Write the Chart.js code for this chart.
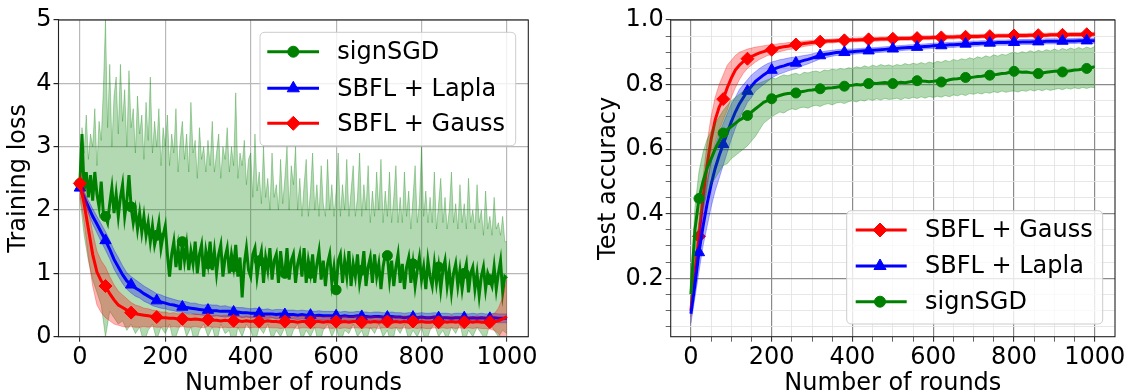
<!DOCTYPE html>
<html><head><meta charset="utf-8">
<script src="https://cdn.jsdelivr.net/npm/chart.js@4"></script>
<style>
html,body{margin:0;padding:0;background:#fff;overflow:hidden;width:1128px;height:392px;}
#left{position:absolute;left:0;top:0;width:560px;height:400px;}
#right{position:absolute;left:590px;top:0;width:538px;height:400px;}
</style></head><body>
<div id="left"><canvas id="c1"></canvas></div>
<div id="right"><canvas id="c2"></canvas></div>
<script>
// ---------- DATA ----------
const seriesNames = ['signSGD', 'SBFL + Lapla', 'SBFL + Gauss'];
const xTitle = 'Number of rounds';
const lossTitle = 'Training loss';
const accTitle = 'Test accuracy';

const fineStep = 5;   // rounds between points of the signSGD loss curves
const step = 10;      // rounds between points of the other curves

// Training loss, signSGD (every 5 rounds)
const signLossMean = [
2.42,3.2,2.3,2.6,2.2,2.55,2.15,2.6,2.25,2.05,2.45,1.95,1.9,1.8,2.1,2.35,1.95,2.25,1.9,2.2,
2.4,1.9,2.15,2.55,2.05,1.8,2.0,1.7,1.95,1.65,1.9,1.6,1.8,1.5,1.75,1.45,1.6,1.8,1.4,1.6,
1.75,1.3,0.95,1.3,1.5,1.1,1.4,1.05,1.5,1.2,1.45,1.05,1.35,1.15,1.5,1.0,1.3,1.45,0.95,1.35,
1.15,1.5,1.05,1.35,1.0,1.3,1.45,0.95,1.25,1.4,1.0,1.3,1.1,1.45,0.95,1.25,0.62,1.15,1.4,1.05,
0.95,1.3,1.4,0.95,1.2,1.35,0.85,1.25,1.05,1.4,0.9,1.2,1.3,0.85,1.35,1.05,1.0,1.4,0.9,1.2,
1.3,0.85,1.15,1.3,0.95,1.4,0.85,1.2,1.0,1.3,0.85,1.15,1.35,0.9,1.2,0.8,1.15,1.3,0.85,1.1,
0.74,1.2,1.3,0.85,1.2,0.95,1.35,0.8,1.15,0.95,1.3,0.85,1.05,1.35,0.8,1.1,1.25,0.85,1.3,0.95,
1.15,0.75,1.1,1.3,1.28,0.9,1.2,0.8,1.1,1.3,0.85,1.15,0.75,1.1,1.25,0.85,1.15,0.8,1.05,1.25,
0.9,1.1,0.75,1.2,0.95,0.8,1.15,0.85,1.1,0.75,1.05,1.2,0.8,1.05,0.7,1.0,1.15,0.8,1.05,0.75,
1.0,1.15,0.7,1.0,1.1,0.75,1.0,0.65,0.95,1.1,0.75,1.0,0.9,0.8,1.1,0.75,1.0,1.2,0.7,0.95,
0.92];
const signLossUpper = [
2.6,3.3,2.9,3.5,2.8,3.2,3.0,3.6,2.7,3.4,3.1,3.9,5.0,3.3,4.3,3.0,3.8,4.1,3.2,4.3,
3.4,3.9,3.0,4.2,3.3,3.6,2.9,3.8,3.2,3.5,2.8,3.7,3.1,4.1,2.9,3.4,3.0,3.6,2.7,3.3,
3.0,3.5,2.7,3.2,2.9,3.6,2.6,3.1,3.4,2.8,3.2,2.6,3.7,2.9,3.1,2.5,3.3,2.8,3.0,2.6,
3.1,2.7,3.4,2.6,2.9,3.2,2.5,3.0,2.8,3.3,2.6,3.0,2.7,3.85,2.5,2.9,2.7,3.1,2.4,2.8,
2.9,2.2,3.2,2.3,2.6,2.1,3.0,2.2,2.5,2.0,2.9,2.2,2.4,2.0,2.8,2.1,2.5,3.0,2.0,2.7,
2.4,3.0,2.0,2.5,1.9,2.4,2.8,1.9,2.3,2.9,2.0,2.4,1.9,2.7,2.1,1.9,2.8,2.0,2.4,1.9,
2.3,2.9,1.9,2.4,2.0,2.8,1.9,2.3,2.7,1.9,2.2,2.9,1.9,2.4,2.0,2.7,1.8,2.3,1.9,2.6,
2.0,2.8,1.8,2.3,1.9,2.6,1.8,2.2,2.7,1.8,2.2,1.8,2.6,1.9,2.3,1.7,2.2,2.7,1.8,2.1,
3.0,1.9,2.3,1.8,2.2,1.8,2.6,1.7,2.1,2.5,1.8,2.2,1.7,2.0,2.6,1.8,2.1,1.7,2.4,1.8,
2.1,1.7,2.5,1.8,2.0,1.7,2.4,1.8,2.0,1.6,2.3,1.7,1.9,1.6,2.2,1.7,1.8,1.6,1.9,1.5,
1.5];
// every 10 rounds
const signLossLower = [
2.2,1.6,1.2,0.9,0.7,0.5,0.0,0.4,0.3,0.2,
0.25,0.1,0.2,0.05,0.15,-0.1,0.1,0.2,-0.05,0.15,
0.05,0.2,-0.1,0.1,0.25,0.0,0.15,-0.15,0.1,0.2,
0.0,0.15,-0.1,0.2,0.05,0.1,-0.2,0.15,0.0,0.2,
0.1,-0.1,0.15,0.05,0.2,-0.05,0.1,0.0,0.15,-0.1,
0.1,0.2,-0.05,0.1,0.0,0.15,-0.15,0.1,0.2,0.0,
0.15,-0.1,0.1,0.05,0.2,0.0,0.1,-0.1,0.15,0.05,
0.2,0.0,0.1,-0.15,0.15,0.05,0.2,-0.05,0.1,0.0,
0.15,-0.1,0.1,0.2,0.0,0.1,-0.05,0.15,0.05,0.2,
-0.1,0.1,0.0,0.15,0.05,-0.05,0.2,0.1,0.0,0.1,
0.05];

// Training loss, SBFL + Lapla (every 10 rounds)
const laplaLossMean = [
2.35,2.2,2.05,1.9,1.78,1.65,1.52,1.38,1.22,1.1,
0.98,0.88,0.82,0.77,0.73,0.68,0.64,0.6,0.57,0.55,
0.53,0.51,0.5,0.48,0.47,0.46,0.45,0.44,0.43,0.42,
0.42,0.41,0.41,0.4,0.4,0.4,0.39,0.39,0.38,0.38,
0.37,0.37,0.37,0.36,0.36,0.36,0.35,0.36,0.35,0.35,
0.35,0.34,0.35,0.34,0.34,0.33,0.34,0.33,0.33,0.33,
0.33,0.32,0.33,0.32,0.32,0.33,0.32,0.32,0.31,0.32,
0.32,0.31,0.31,0.32,0.31,0.31,0.3,0.31,0.31,0.3,
0.31,0.3,0.3,0.31,0.3,0.3,0.3,0.29,0.3,0.3,
0.3,0.29,0.3,0.29,0.3,0.29,0.29,0.3,0.29,0.29,
0.29];
const laplaLossUpper = [
2.4,2.28,2.15,2.02,1.9,1.78,1.66,1.52,1.37,1.25,
1.12,1.01,0.95,0.9,0.85,0.8,0.76,0.72,0.68,0.66,
0.63,0.61,0.59,0.57,0.56,0.55,0.53,0.53,0.51,0.5,
0.51,0.5,0.5,0.48,0.49,0.47,0.47,0.46,0.46,0.45,
0.44,0.45,0.44,0.43,0.44,0.42,0.43,0.43,0.42,0.42,
0.42,0.41,0.42,0.41,0.41,0.4,0.41,0.4,0.4,0.4,
0.4,0.39,0.4,0.39,0.39,0.4,0.39,0.39,0.38,0.39,
0.39,0.38,0.38,0.39,0.38,0.38,0.37,0.38,0.38,0.37,
0.38,0.37,0.37,0.38,0.37,0.37,0.37,0.36,0.37,0.37,
0.37,0.36,0.37,0.36,0.37,0.36,0.36,0.37,0.36,0.36,
0.36];
const laplaLossLower = [
2.3,2.12,1.95,1.78,1.64,1.5,1.37,1.23,1.07,0.95,
0.84,0.75,0.69,0.64,0.61,0.56,0.53,0.49,0.47,0.45,
0.44,0.42,0.41,0.39,0.39,0.37,0.37,0.35,0.35,0.34,
0.33,0.32,0.33,0.32,0.31,0.32,0.31,0.32,0.3,0.31,
0.3,0.3,0.3,0.29,0.29,0.3,0.28,0.29,0.28,0.28,
0.28,0.27,0.28,0.27,0.27,0.26,0.27,0.26,0.26,0.26,
0.26,0.25,0.26,0.25,0.25,0.26,0.25,0.25,0.24,0.25,
0.25,0.24,0.24,0.25,0.24,0.24,0.23,0.24,0.24,0.23,
0.24,0.23,0.23,0.24,0.23,0.23,0.23,0.22,0.23,0.23,
0.23,0.22,0.23,0.22,0.23,0.22,0.22,0.23,0.22,0.22,
0.22];

// Training loss, SBFL + Gauss (every 10 rounds)
const gaussLossMean = [
2.42,2.1,1.7,1.3,1.02,0.88,0.8,0.68,0.58,0.5,
0.46,0.42,0.38,0.36,0.35,0.34,0.33,0.32,0.31,0.3,
0.3,0.29,0.29,0.28,0.28,0.28,0.27,0.28,0.27,0.26,
0.27,0.26,0.26,0.25,0.26,0.25,0.25,0.25,0.24,0.25,
0.24,0.25,0.24,0.24,0.25,0.24,0.24,0.23,0.24,0.24,
0.24,0.23,0.24,0.24,0.23,0.24,0.24,0.23,0.24,0.23,
0.24,0.23,0.24,0.23,0.24,0.24,0.23,0.24,0.23,0.24,
0.23,0.24,0.24,0.23,0.24,0.23,0.24,0.23,0.24,0.23,
0.24,0.23,0.23,0.24,0.23,0.24,0.23,0.24,0.23,0.24,
0.23,0.24,0.23,0.24,0.23,0.23,0.23,0.24,0.25,0.28,
0.32];
const gaussLossUpper = [
2.6,2.35,2.0,1.65,1.35,1.2,1.1,0.95,0.82,0.72,
0.66,0.6,0.54,0.5,0.48,0.45,0.44,0.42,0.41,0.39,
0.39,0.37,0.38,0.36,0.37,0.36,0.35,0.36,0.35,0.34,
0.35,0.34,0.34,0.33,0.34,0.33,0.33,0.33,0.32,0.33,
0.32,0.33,0.31,0.32,0.34,0.31,0.32,0.31,0.33,0.32,
0.32,0.31,0.33,0.32,0.31,0.33,0.32,0.31,0.32,0.31,
0.32,0.31,0.33,0.31,0.32,0.33,0.31,0.32,0.31,0.32,
0.31,0.32,0.33,0.31,0.32,0.31,0.33,0.31,0.32,0.31,
0.32,0.31,0.31,0.33,0.31,0.32,0.31,0.33,0.31,0.32,
0.31,0.32,0.31,0.33,0.31,0.32,0.33,0.36,0.45,0.62,
0.9];
const gaussLossLower = [
2.25,1.8,1.25,0.8,0.5,0.38,0.3,0.25,0.2,0.18,
0.16,0.15,0.16,0.15,0.15,0.16,0.15,0.16,0.15,0.15,
0.16,0.15,0.16,0.15,0.16,0.15,0.15,0.16,0.15,0.14,
0.16,0.15,0.15,0.14,0.15,0.14,0.15,0.14,0.14,0.15,
0.14,0.15,0.14,0.14,0.15,0.14,0.14,0.13,0.14,0.14,
0.14,0.13,0.14,0.14,0.13,0.14,0.14,0.13,0.14,0.13,
0.14,0.13,0.14,0.13,0.14,0.14,0.13,0.14,0.13,0.14,
0.13,0.14,0.14,0.13,0.14,0.13,0.14,0.13,0.14,0.13,
0.14,0.13,0.13,0.14,0.13,0.14,0.13,0.14,0.13,0.14,
0.13,0.14,0.13,0.14,0.13,0.13,0.12,0.1,0.05,-0.05,
-0.3];

// Test accuracy (every 10 rounds)
const gaussAcc = [
0.10,0.22,0.33,0.45,0.55,0.63,0.69,0.73,0.755,0.79,
0.82,0.845,0.86,0.872,0.88,0.887,0.893,0.898,0.902,0.906,
0.908,0.912,0.915,0.917,0.919,0.921,0.924,0.925,0.927,0.929,
0.93,0.931,0.933,0.934,0.935,0.935,0.936,0.937,0.937,0.938,
0.938,0.938,0.939,0.939,0.94,0.94,0.94,0.941,0.941,0.942,
0.942,0.942,0.943,0.943,0.943,0.944,0.944,0.945,0.945,0.945,
0.946,0.946,0.946,0.947,0.947,0.947,0.948,0.948,0.948,0.949,
0.949,0.949,0.95,0.95,0.95,0.95,0.951,0.951,0.951,0.951,
0.952,0.952,0.952,0.952,0.953,0.953,0.953,0.953,0.953,0.954,
0.954,0.954,0.954,0.954,0.955,0.955,0.955,0.955,0.956,0.956,
0.956];
const gaussAccUpper = [
0.12,0.26,0.38,0.51,0.62,0.70,0.76,0.80,0.83,0.86,
0.875,0.89,0.9,0.905,0.91,0.913,0.916,0.918,0.92,0.922,
0.923,0.925,0.927,0.928,0.93,0.931,0.933,0.934,0.935,0.936,
0.937,0.938,0.939,0.94,0.94,0.941,0.942,0.942,0.943,0.943,
0.944,0.944,0.945,0.945,0.946,0.946,0.946,0.947,0.947,0.948,
0.948,0.948,0.949,0.949,0.949,0.95,0.95,0.951,0.951,0.951,
0.952,0.952,0.952,0.953,0.953,0.953,0.954,0.954,0.954,0.955,
0.955,0.955,0.956,0.956,0.956,0.956,0.957,0.957,0.957,0.957,
0.958,0.958,0.958,0.958,0.959,0.959,0.959,0.959,0.959,0.96,
0.96,0.96,0.96,0.96,0.961,0.961,0.961,0.961,0.962,0.962,
0.962];
const gaussAccLower = [
0.08,0.18,0.28,0.39,0.48,0.56,0.62,0.66,0.69,0.72,
0.76,0.79,0.815,0.835,0.85,0.86,0.87,0.878,0.884,0.89,
0.893,0.898,0.902,0.905,0.908,0.91,0.914,0.915,0.918,0.92,
0.922,0.924,0.926,0.927,0.929,0.929,0.93,0.931,0.931,0.932,
0.932,0.932,0.933,0.933,0.934,0.934,0.934,0.935,0.935,0.936,
0.936,0.936,0.937,0.937,0.937,0.938,0.938,0.939,0.939,0.939,
0.94,0.94,0.94,0.941,0.941,0.941,0.942,0.942,0.942,0.943,
0.943,0.943,0.944,0.944,0.944,0.944,0.945,0.945,0.945,0.945,
0.946,0.946,0.946,0.946,0.947,0.947,0.947,0.947,0.947,0.948,
0.948,0.948,0.948,0.948,0.949,0.949,0.949,0.949,0.95,0.95,
0.95];

const laplaAcc = [
0.09,0.18,0.28,0.36,0.43,0.49,0.54,0.58,0.615,0.65,
0.685,0.715,0.74,0.76,0.78,0.795,0.81,0.82,0.83,0.838,
0.845,0.85,0.855,0.858,0.862,0.865,0.867,0.871,0.875,0.878,
0.882,0.886,0.89,0.893,0.895,0.897,0.899,0.9,0.9,0.901,
0.902,0.903,0.904,0.905,0.905,0.906,0.907,0.908,0.909,0.91,
0.911,0.912,0.913,0.914,0.915,0.915,0.916,0.917,0.918,0.919,
0.92,0.921,0.921,0.922,0.923,0.923,0.924,0.925,0.926,0.926,
0.927,0.927,0.928,0.928,0.929,0.929,0.93,0.93,0.93,0.931,
0.931,0.931,0.932,0.932,0.932,0.933,0.933,0.933,0.934,0.934,
0.934,0.934,0.935,0.935,0.935,0.935,0.936,0.936,0.936,0.936,
0.936];
const laplaAccUpper = [
0.12,0.22,0.33,0.42,0.5,0.56,0.61,0.65,0.68,0.71,
0.74,0.76,0.785,0.8,0.815,0.83,0.84,0.85,0.858,0.865,
0.87,0.873,0.877,0.879,0.882,0.884,0.885,0.888,0.89,0.892,
0.895,0.898,0.9,0.903,0.905,0.906,0.908,0.909,0.909,0.91,
0.91,0.911,0.912,0.913,0.913,0.914,0.915,0.916,0.917,0.918,
0.919,0.92,0.921,0.922,0.923,0.923,0.924,0.925,0.926,0.927,
0.928,0.929,0.929,0.93,0.931,0.931,0.932,0.933,0.934,0.934,
0.935,0.935,0.936,0.936,0.937,0.937,0.938,0.938,0.938,0.939,
0.939,0.939,0.94,0.94,0.94,0.941,0.941,0.941,0.942,0.942,
0.942,0.942,0.943,0.943,0.943,0.943,0.944,0.944,0.944,0.944,
0.944];
const laplaAccLower = [
0.06,0.14,0.22,0.3,0.36,0.42,0.47,0.51,0.55,0.59,
0.63,0.665,0.695,0.72,0.745,0.76,0.78,0.79,0.8,0.81,
0.82,0.827,0.833,0.837,0.842,0.846,0.849,0.854,0.86,0.864,
0.869,0.874,0.88,0.883,0.885,0.888,0.89,0.891,0.891,0.892,
0.894,0.895,0.896,0.897,0.897,0.898,0.899,0.9,0.901,0.902,
0.903,0.904,0.905,0.906,0.907,0.907,0.908,0.909,0.91,0.911,
0.912,0.913,0.913,0.914,0.915,0.915,0.916,0.917,0.918,0.918,
0.919,0.919,0.92,0.92,0.921,0.921,0.922,0.922,0.922,0.923,
0.923,0.923,0.924,0.924,0.924,0.925,0.925,0.925,0.926,0.926,
0.926,0.926,0.927,0.927,0.927,0.927,0.928,0.928,0.928,0.928,
0.928];

const signAcc = [
0.15,0.35,0.447,0.50,0.54,0.57,0.60,0.625,0.65,0.66,
0.67,0.68,0.69,0.697,0.704,0.715,0.725,0.735,0.745,0.75,
0.756,0.762,0.766,0.77,0.772,0.773,0.774,0.777,0.779,0.782,
0.783,0.785,0.787,0.788,0.789,0.79,0.792,0.794,0.795,0.797,
0.798,0.8,0.799,0.801,0.803,0.804,0.803,0.805,0.806,0.805,
0.803,0.805,0.807,0.806,0.808,0.81,0.812,0.811,0.81,0.809,
0.81,0.812,0.808,0.811,0.815,0.817,0.818,0.82,0.822,0.821,
0.823,0.825,0.826,0.828,0.829,0.83,0.832,0.834,0.835,0.838,
0.841,0.84,0.838,0.839,0.837,0.836,0.834,0.836,0.838,0.84,
0.841,0.842,0.839,0.841,0.843,0.845,0.846,0.848,0.85,0.852,
0.855];
const signAccUpper = [
0.19,0.42,0.53,0.59,0.63,0.655,0.68,0.70,0.72,0.735,
0.75,0.76,0.77,0.78,0.785,0.795,0.80,0.805,0.81,0.815,
0.82,0.818,0.825,0.83,0.827,0.832,0.835,0.83,0.838,0.836,
0.84,0.842,0.838,0.845,0.843,0.848,0.845,0.85,0.847,0.852,
0.85,0.855,0.852,0.858,0.854,0.86,0.856,0.862,0.858,0.861,
0.857,0.862,0.859,0.865,0.861,0.866,0.863,0.868,0.864,0.87,
0.866,0.872,0.869,0.875,0.871,0.878,0.874,0.88,0.877,0.883,
0.879,0.886,0.882,0.889,0.885,0.892,0.888,0.894,0.891,0.897,
0.9,0.896,0.902,0.898,0.905,0.9,0.906,0.902,0.908,0.904,
0.91,0.905,0.912,0.907,0.913,0.909,0.915,0.91,0.916,0.912,
0.918];
const signAccLower = [
0.12,0.28,0.37,0.42,0.46,0.49,0.51,0.53,0.55,0.555,
0.57,0.58,0.59,0.6,0.61,0.625,0.64,0.66,0.68,0.69,
0.7,0.708,0.715,0.712,0.72,0.725,0.722,0.728,0.73,0.727,
0.733,0.736,0.732,0.738,0.741,0.737,0.743,0.745,0.741,0.747,
0.75,0.746,0.752,0.749,0.755,0.751,0.756,0.752,0.757,0.754,
0.755,0.758,0.753,0.759,0.756,0.761,0.757,0.762,0.758,0.763,
0.76,0.764,0.761,0.766,0.762,0.768,0.765,0.77,0.766,0.772,
0.77,0.774,0.771,0.776,0.773,0.778,0.775,0.78,0.776,0.779,
0.78,0.777,0.782,0.779,0.784,0.78,0.785,0.781,0.786,0.782,
0.785,0.788,0.784,0.789,0.786,0.79,0.787,0.791,0.788,0.792,
0.79];

// Axis ticks
const roundTicks = [0,200,400,600,800,1000];
const roundMinorTicks = [0,50,100,150,200,250,300,350,400,450,500,550,600,650,700,750,800,850,900,950,1000];
const lossTicks = [0,1,2,3,4,5];
const accAllTicks = [0.05,0.1,0.15,0.2,0.25,0.3,0.35,0.4,0.45,0.5,0.55,0.6,0.65,0.7,0.75,0.8,0.85,0.9,0.95,1.0];

// ---------- STYLE / HELPERS ----------
const GREEN = '#008000', BLUE = '#0000ff', RED = '#ff0000';
const FONT = 'DejaVu Sans';
const FS = 24;
Chart.defaults.font.family = FONT;
Chart.defaults.color = '#000';

const pts = (ys, st) => ys.map((y, i) => ({x: i * st, y}));
function rgba(hex, a) {
  const n = parseInt(hex.slice(1), 16);
  return `rgba(${(n>>16)&255},${(n>>8)&255},${n&255},${a})`;
}
function lineDS(label, ys, st, color, style, radius, every, offset, order) {
  return {
    label, data: pts(ys, st), borderColor: color, backgroundColor: color,
    borderWidth: 3, fill: false, tension: 0, order,
    pointStyle: style,
    pointRadius: c => (c.dataIndex >= offset && (c.dataIndex - offset) % every === 0) ? radius : 0,
    pointHoverRadius: 0,
    pointBackgroundColor: color, pointBorderColor: color, pointBorderWidth: 1
  };
}
function bandDS(ys, st, color, fillTarget, order) {
  return {
    label: '', data: pts(ys, st), borderColor: rgba(color, 0.3), backgroundColor: rgba(color, 0.3),
    borderWidth: 1, pointRadius: 0, pointHoverRadius: 0, tension: 0, order,
    fill: fillTarget === null ? false : {target: fillTarget, above: rgba(color, 0.3), below: rgba(color, 0.3)}
  };
}

function drawMarker(ctx, style, x, y, r, color) {
  ctx.fillStyle = color; ctx.strokeStyle = color; ctx.lineWidth = 1;
  ctx.beginPath();
  if (style === 'circle') {
    ctx.arc(x, y, r, 0, Math.PI * 2);
  } else if (style === 'rectRot') {
    ctx.moveTo(x, y - r); ctx.lineTo(x + r, y); ctx.lineTo(x, y + r); ctx.lineTo(x - r, y);
  } else {
    let a = 0;
    ctx.moveTo(x + Math.sin(a) * r, y - Math.cos(a) * r);
    a += 2 * Math.PI / 3; ctx.lineTo(x + Math.sin(a) * r, y - Math.cos(a) * r);
    a += 2 * Math.PI / 3; ctx.lineTo(x + Math.sin(a) * r, y - Math.cos(a) * r);
  }
  ctx.closePath(); ctx.fill(); ctx.stroke();
}
function roundRectPath(ctx, x, y, w, h, r) {
  ctx.beginPath();
  ctx.moveTo(x + r, y); ctx.lineTo(x + w - r, y); ctx.quadraticCurveTo(x + w, y, x + w, y + r);
  ctx.lineTo(x + w, y + h - r); ctx.quadraticCurveTo(x + w, y + h, x + w - r, y + h);
  ctx.lineTo(x + r, y + h); ctx.quadraticCurveTo(x, y + h, x, y + h - r);
  ctx.lineTo(x, y + r); ctx.quadraticCurveTo(x, y, x + r, y);
  ctx.closePath();
}
function legendPlugin(id, cfg) {
  return {
    id,
    afterDraw(chart) {
      const ctx = chart.ctx;
      ctx.save();
      const b = cfg.box;
      roundRectPath(ctx, b.x, b.y, b.w, b.h, 5);
      ctx.fillStyle = 'rgba(255,255,255,0.8)'; ctx.fill();
      ctx.strokeStyle = '#cccccc'; ctx.lineWidth = 1; ctx.stroke();
      cfg.items.forEach((it, k) => {
        const y = cfg.rows[k];
        ctx.strokeStyle = it.color; ctx.lineWidth = 3;
        ctx.beginPath(); ctx.moveTo(cfg.lineX0, y); ctx.lineTo(cfg.lineX1, y); ctx.stroke();
        drawMarker(ctx, it.style, cfg.markX, y, it.radius, it.color);
        ctx.fillStyle = '#000';
        ctx.font = `${cfg.fontSize}px "${FONT}"`;
        ctx.textBaseline = 'middle'; ctx.textAlign = 'left';
        ctx.fillText(it.label, cfg.textX, y + 1);
      });
      ctx.restore();
    }
  };
}
const framePlugin = {
  id: 'frame',
  afterDatasetsDraw(chart) {
    const {ctx, chartArea: a} = chart;
    ctx.save();
    ctx.strokeStyle = '#222'; ctx.lineWidth = 1.1;
    ctx.strokeRect(a.left, a.top, a.right - a.left, a.bottom - a.top);
    ctx.restore();
  }
};

const tickFont = {family: FONT, size: FS};
const titleFont = {family: FONT, size: FS};

function xScale(tickList, labelFn, gridColor, gridWidth, tickColor) {
  return {
    type: 'linear', min: -50, max: 1050,
    afterBuildTicks: s => { s.ticks = tickList.map(v => ({value: v})); },
    afterFit: s => { s.height = 63.3; },
    ticks: {font: tickFont, color: '#000', autoSkip: false, maxRotation: 0, minRotation: 0, padding: 2,
            callback: labelFn},
    grid: {color: gridColor, lineWidth: gridWidth, drawTicks: true, tickLength: 5, tickColor: tickColor, tickWidth: 1},
    border: {display: false},
    title: {display: true, text: xTitle, font: titleFont, color: '#000', padding: {top: 0, bottom: 1.9}}
  };
}

// ---------- LEFT: training loss ----------
const leftDatasets = [
  bandDS(signLossUpper, fineStep, GREEN, 1, 6),
  bandDS(signLossLower, step, GREEN, null, 6),
  lineDS(seriesNames[0], signLossMean, fineStep, GREEN, 'circle', 5, 12, 0, 5),
  bandDS(laplaLossUpper, step, BLUE, 4, 4),
  bandDS(laplaLossLower, step, BLUE, null, 4),
  lineDS(seriesNames[1], laplaLossMean, step, BLUE, 'triangle', 6.5, 6, 0, 3),
  bandDS(gaussLossUpper, step, RED, 7, 2),
  bandDS(gaussLossLower, step, RED, null, 2),
  lineDS(seriesNames[2], gaussLossMean, step, RED, 'rectRot', 6.5, 6, 0, 1)
];

new Chart(document.getElementById('c1'), {
  type: 'line',
  data: {datasets: leftDatasets},
  options: {
    responsive: true, maintainAspectRatio: false, animation: false,
    devicePixelRatio: 1,
    layout: {padding: {top: 20, right: 31.7, left: 0, bottom: 0}},
    plugins: {legend: {display: false}, tooltip: {enabled: false}},
    scales: {
      x: xScale(roundTicks, v => String(v), '#b8b8b8', 1.2, '#222'),
      y: {
        type: 'linear', min: 0, max: 5,
        afterBuildTicks: s => { s.ticks = lossTicks.map(v => ({value: v})); },
        afterFit: s => { s.width = 58.5; },
        ticks: {font: tickFont, color: '#000', padding: 2, callback: v => String(v)},
        grid: {color: '#b8b8b8', lineWidth: 1.2, drawTicks: true, tickLength: 5, tickColor: '#222'},
        border: {display: false},
        title: {display: true, text: lossTitle, font: titleFont, color: '#000', padding: {top: 3.9, bottom: 0}}
      }
    }
  },
  plugins: [framePlugin, legendPlugin('lg1', {
    box: {x: 260, y: 32.3, w: 255.7, h: 113.4},
    rows: [51.7, 88.3, 123.3],
    lineX0: 267.3, lineX1: 319, markX: 293.3, textX: 337.3, fontSize: FS,
    items: [
      {label: seriesNames[0], color: GREEN, style: 'circle', radius: 5.5},
      {label: seriesNames[1], color: BLUE, style: 'triangle', radius: 7},
      {label: seriesNames[2], color: RED, style: 'rectRot', radius: 7}
    ]
  })]
});

// ---------- RIGHT: test accuracy ----------
const isMajorAcc = v => Math.abs(v * 5 - Math.round(v * 5)) < 1e-6;
const isMajorRound = v => v % 200 === 0;

const rightDatasets = [
  bandDS(gaussAccUpper, step, RED, 1, 6),
  bandDS(gaussAccLower, step, RED, null, 6),
  lineDS(seriesNames[2], gaussAcc, step, RED, 'rectRot', 6.5, 6, 2, 5),
  bandDS(laplaAccUpper, step, BLUE, 4, 4),
  bandDS(laplaAccLower, step, BLUE, null, 4),
  lineDS(seriesNames[1], laplaAcc, step, BLUE, 'triangle', 6.5, 6, 2, 3),
  bandDS(signAccUpper, step, GREEN, 7, 2),
  bandDS(signAccLower, step, GREEN, null, 2),
  lineDS(seriesNames[0], signAcc, step, GREEN, 'circle', 5, 6, 2, 1)
];

const rx = xScale(roundMinorTicks, v => isMajorRound(v) ? String(v) : '', '#888', 1.2, '#222');
rx.grid.color = c => isMajorRound(c.tick.value) ? '#8a8a8a' : '#e4e4e4';
rx.grid.lineWidth = c => isMajorRound(c.tick.value) ? 1.2 : 0.9;
rx.grid.tickWidth = c => isMajorRound(c.tick.value) ? 1 : 0.7;

new Chart(document.getElementById('c2'), {
  type: 'line',
  data: {datasets: rightDatasets},
  options: {
    responsive: true, maintainAspectRatio: false, animation: false,
    devicePixelRatio: 1,
    layout: {padding: {top: 20, right: 13, left: 0, bottom: 0}},
    plugins: {legend: {display: false}, tooltip: {enabled: false}},
    scales: {
      x: rx,
      y: {
        type: 'linear', min: 0.019, max: 1.0,
        afterBuildTicks: s => { s.ticks = accAllTicks.map(v => ({value: v})); },
        afterFit: s => { s.width = 80.7; },
        ticks: {font: tickFont, color: '#000', padding: 2, autoSkip: false,
                callback: v => isMajorAcc(v) ? v.toFixed(1) : ''},
        grid: {color: c => isMajorAcc(c.tick.value) ? '#8a8a8a' : '#e4e4e4',
               lineWidth: c => isMajorAcc(c.tick.value) ? 1.2 : 0.9,
               drawTicks: true, tickLength: 5, tickColor: '#222',
               tickWidth: c => isMajorAcc(c.tick.value) ? 1 : 0.7},
        border: {display: false},
        title: {display: true, text: accTitle, font: titleFont, color: '#000', padding: {top: 3.9, bottom: 0}}
      }
    }
  },
  plugins: [framePlugin, legendPlugin('lg2', {
    box: {x: 256.7, y: 210.7, w: 256, h: 113.3},
    rows: [230, 266, 301.7],
    lineX0: 265.7, lineX1: 316.7, markX: 290, textX: 335, fontSize: FS,
    items: [
      {label: seriesNames[2], color: RED, style: 'rectRot', radius: 7},
      {label: seriesNames[1], color: BLUE, style: 'triangle', radius: 7},
      {label: seriesNames[0], color: GREEN, style: 'circle', radius: 5.5}
    ]
  })]
});
</script>
</body></html>
